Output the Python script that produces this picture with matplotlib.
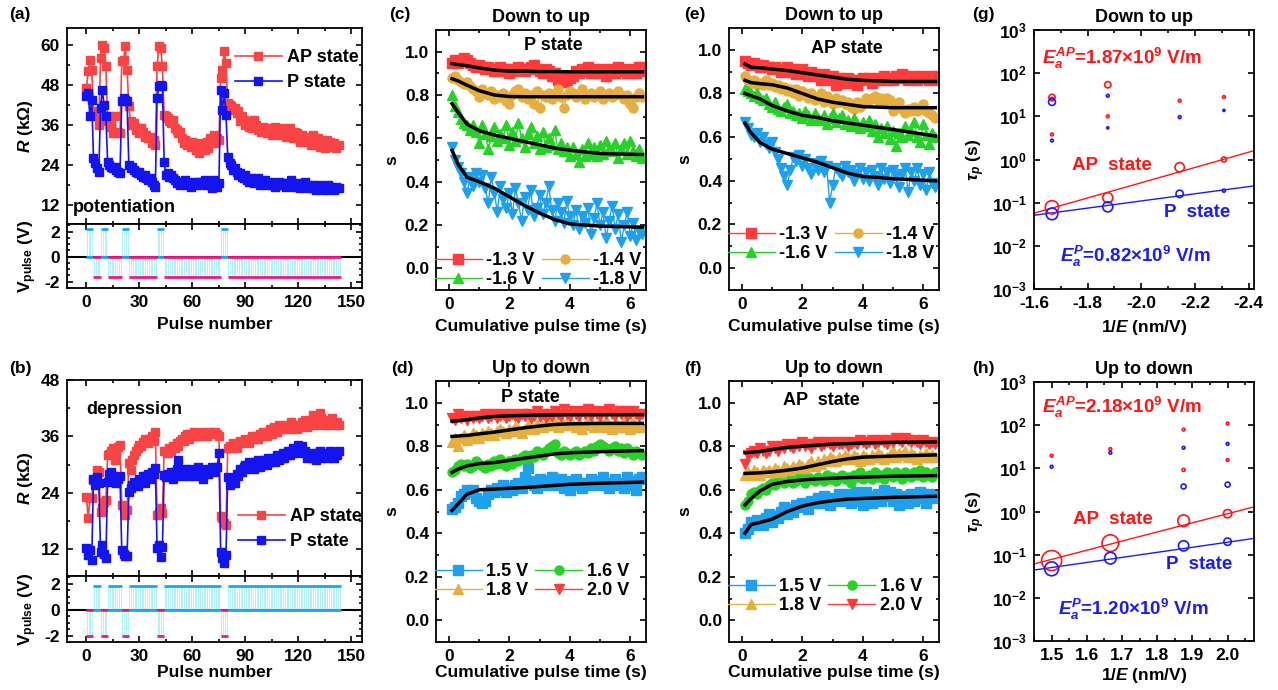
import numpy as np
import matplotlib.pyplot as plt
from matplotlib.ticker import AutoMinorLocator, MultipleLocator

plt.rcParams['font.family'] = 'Liberation Sans'
plt.rcParams['font.weight'] = 'bold'
plt.rcParams['axes.labelweight'] = 'bold'
plt.rcParams['axes.titleweight'] = 'bold'
plt.rcParams['mathtext.fontset'] = 'custom'
plt.rcParams['mathtext.rm'] = 'Liberation Sans:bold'
plt.rcParams['mathtext.it'] = 'Liberation Sans:bold:italic'
plt.rcParams['mathtext.bf'] = 'Liberation Sans:bold'
plt.rcParams['axes.linewidth'] = 1.3
plt.rcParams['axes.unicode_minus'] = False

# ---------------- panel (a)/(b): resistance vs pulse number ----------------
pulse_num = np.arange(144)
reset_start = [0, 8, 20, 40, 76]
reset_end = [4, 12, 24, 44, 80]
train_start = [4, 12, 24, 44, 80]
train_end = [8, 20, 40, 76, 144]

R_ap_pot = [
    47, 52, 55.5, 52.5,
    40, 39, 38.5, 36,
    56, 60, 59, 53.5,
    37, 38.5, 35.5, 33.5, 38.5, 33.5, 34, 33.5,
    55, 55.5, 59.5, 52.5,
    41.5, 37, 36, 36.5, 34.5, 35, 33.5, 35, 34, 32.5, 33, 32, 32.5, 30.5, 31.5, 30,
    53.5, 59.5, 59, 53.5,
    39, 38.5, 38, 37, 36.5, 37.5, 35, 34.5, 33.5, 34, 32, 30.5, 31.5, 30, 31, 29.5,
    31, 30, 28.5, 30.5, 27.5, 29.5, 30, 28.5, 31, 29, 32, 31, 33, 30.5, 32, 31.5,
    50, 52.5, 58, 54.5,
    42.5, 42, 41.5, 40.5, 41, 39.5, 40, 37, 38.5, 37.5, 36, 37, 35.5, 36.5, 35, 37.5,
    36, 34.5, 35, 34, 35.5, 34.5, 33.5, 35, 34, 33, 34.5, 35.5, 33.5, 34, 33, 35,
    34, 32.5, 33.5, 35, 33, 32, 34, 33.5, 32, 31, 33, 32.5, 31, 32.5, 31.5, 30,
    33, 31.5, 30.5, 32, 29.5, 31, 30.5, 29, 31.5, 30, 31, 29.5, 30.5, 29, 30, 30,
]
R_p_pot = [
    44.5, 45.5, 38.5, 43.5,
    26, 24.5, 23, 22,
    41, 46.5, 42, 38.5,
    25, 24, 23.5, 23, 23.5, 22.5, 22, 21.5,
    43, 44, 43.5, 43,
    24, 23, 23.5, 22.5, 22, 21.5, 22, 21, 20.5, 21, 20, 19.5, 20, 19, 18, 17.5,
    44, 47.5, 48, 47.5,
    25, 21, 21.5, 20.5, 21, 20, 19.5, 18.5, 19, 18, 19, 18.5, 19.5, 18, 18.5, 17.5,
    19, 18.5, 18, 19, 18.5, 19, 18, 19.5, 18.5, 19, 18, 17, 19.5, 18.5, 17.5, 18.5,
    46.5, 40.5, 45.5, 39,
    26.5, 24.5, 24, 22.5, 23, 22, 21, 21.5, 20.5, 20, 21, 19.5, 19, 20, 19.5, 18.5,
    19, 20, 18, 19, 18.5, 19.5, 18, 18.5, 19, 18, 18.5, 17.5, 18.5, 19, 18, 18.5,
    18, 17.5, 18.5, 18, 19.5, 18, 17.5, 18, 18.5, 17, 18, 17.5, 19, 18, 17, 17.5,
    18, 17, 16.5, 17.5, 18, 17, 17.5, 16.5, 17, 18, 17.5, 17, 16.5, 17.5, 17, 17,
]
R_ap_dep = [
    23.2, 18.6, 22.8, 23,
    26.7, 26.5, 28.9, 28.5,
    20, 20.7, 22.1, 22.5,
    32, 32.3, 32.8, 33.5, 31, 32.5, 33.8, 34.2,
    21.4, 21, 19.3, 20.4,
    30.3, 28.9, 31, 32, 33, 33.5, 34.2, 34, 34.9, 35.5, 35, 34.5, 35.5, 36, 35, 37,
    19.3, 20, 20.7, 19.6,
    32.8, 33, 32.5, 33.5, 33, 34, 33.5, 34.5, 34, 35, 35.5, 35, 36, 36.5, 35.5, 36,
    36.5, 37, 36, 36.5, 36, 36.5, 37, 36.5, 36, 36.5, 37, 36.5, 36.5, 37, 36.5, 36,
    19, 18.6, 17.5, 17.2,
    33.5, 34, 33.5, 34.5, 34, 33.5, 34.5, 35, 34.5, 35, 35.5, 35, 34.5, 35.5, 36, 35.5,
    36, 35.5, 36.5, 36, 37, 36.5, 36, 37, 37.5, 36.5, 38, 37.5, 37, 38.5, 38, 37.5,
    38, 38.5, 37.5, 38, 39, 38.5, 38, 37.5, 38.5, 38, 39, 38.5, 39.5, 38, 38.5, 39,
    40.5, 39, 38.5, 39.5, 41, 40, 39, 38.5, 39.5, 38.5, 39, 40, 39, 38.5, 39, 38.5,
]
R_p_dep = [
    12.2, 10.8, 11.8, 9.7,
    27, 25.6, 27.4, 26,
    11.5, 12.9, 11, 10.1,
    26.4, 28.1, 28.5, 27.5, 26.4, 26, 27, 27.5,
    11.8, 11, 10.5, 10.6,
    24.2, 25, 25.6, 26.4, 26, 25.5, 27, 26.5, 27.5, 26, 27.5, 28, 27, 28.5, 28, 29.2,
    12.2, 12.9, 10.4, 12.5,
    27.8, 27.4, 28, 27.5, 28.5, 27, 28.5, 29, 31, 28, 27.5, 28.5, 29, 28, 27.5, 28.5,
    29, 27.5, 28, 29.5, 28.5, 28, 27, 28.5, 29, 28, 28.5, 29.5, 28.5, 29, 29.5, 32.4,
    11.5, 10.2, 9, 10.8,
    27.4, 25.7, 26.5, 27, 26, 28, 27.5, 29, 28.5, 29.5, 30, 29, 30.5, 29.5, 30, 29,
    30.5, 31, 29.5, 30.3, 30.5, 31, 30, 31.5, 30.5, 31, 31.3, 30.5, 32, 31, 31.5, 32.5,
    31.5, 32, 33, 32, 32.8, 33.5, 32.5, 33, 34.2, 33.5, 34, 32.5, 33, 31.5, 32, 32.5,
    31.5, 32, 31, 32.5, 33, 31.5, 32, 32.5, 31.5, 32, 33, 32.5, 31.5, 32.5, 32, 32.8,
]
V_reset_pot, V_train_pot = 2.2, -1.6
V_reset_dep, V_train_dep = -2.0, 1.8

# ---------------- panels (c)-(f): s vs cumulative pulse time ----------------
pulse_time = np.arange(1, 65) / 10
fit_t = [0.1, 0.3, 0.6, 1.0, 1.5, 2.0, 2.5, 3.0, 3.5, 4.0, 5.0, 6.4]

c_m13 = [0.95, 0.96, 0.95, 0.96, 0.97, 0.96, 0.95, 0.94, 0.93, 0.94, 0.93, 0.92, 0.93, 0.92, 0.91, 0.92,
         0.93, 0.91, 0.92, 0.90, 0.92, 0.91, 0.93, 0.92, 0.91, 0.92, 0.93, 0.94, 0.92, 0.91, 0.90, 0.92,
         0.91, 0.89, 0.90, 0.87, 0.88, 0.86, 0.87, 0.88, 0.89, 0.91, 0.90, 0.92, 0.91, 0.93, 0.90, 0.92,
         0.91, 0.90, 0.92, 0.89, 0.91, 0.92, 0.90, 0.93, 0.91, 0.92, 0.90, 0.91, 0.92, 0.90, 0.93, 0.91]
c_m14 = [0.88, 0.89, 0.87, 0.86, 0.85, 0.86, 0.84, 0.83, 0.82, 0.79, 0.83, 0.81, 0.80, 0.82, 0.78, 0.80,
         0.79, 0.81, 0.77, 0.76, 0.80, 0.82, 0.83, 0.79, 0.81, 0.78, 0.80, 0.76, 0.82, 0.74, 0.80, 0.79,
         0.81, 0.78, 0.80, 0.83, 0.79, 0.74, 0.80, 0.82, 0.81, 0.79, 0.80, 0.83, 0.78, 0.80, 0.81, 0.79,
         0.80, 0.82, 0.78, 0.80, 0.81, 0.79, 0.80, 0.82, 0.80, 0.78, 0.80, 0.76, 0.74, 0.79, 0.81, 0.79]
c_m16 = [0.80, 0.75, 0.72, 0.69, 0.67, 0.66, 0.64, 0.66, 0.63, 0.58, 0.66, 0.62, 0.55, 0.61, 0.65, 0.59,
         0.62, 0.60, 0.66, 0.57, 0.63, 0.59, 0.67, 0.60, 0.56, 0.62, 0.65, 0.58, 0.61, 0.55, 0.63, 0.56,
         0.60, 0.57, 0.64, 0.55, 0.58, 0.54, 0.56, 0.52, 0.56, 0.53, 0.49, 0.55, 0.52, 0.58, 0.53, 0.56,
         0.52, 0.57, 0.53, 0.59, 0.55, 0.54, 0.58, 0.51, 0.55, 0.58, 0.53, 0.59, 0.54, 0.52, 0.55, 0.51]
c_m18 = [0.56, 0.50, 0.47, 0.44, 0.40, 0.35, 0.42, 0.38, 0.44, 0.40, 0.43, 0.37, 0.30, 0.42, 0.35, 0.26,
         0.38, 0.32, 0.28, 0.35, 0.25, 0.37, 0.30, 0.22, 0.33, 0.27, 0.36, 0.24, 0.28, 0.34, 0.25, 0.30,
         0.38, 0.27, 0.22, 0.30, 0.26, 0.21, 0.31, 0.24, 0.20, 0.27, 0.18, 0.24, 0.21, 0.28, 0.16, 0.23,
         0.30, 0.20, 0.26, 0.14, 0.22, 0.29, 0.18, 0.25, 0.12, 0.20, 0.26, 0.15, 0.21, 0.13, 0.17, 0.16]
c_fit = [
    [0.945, 0.94, 0.935, 0.925, 0.915, 0.91, 0.91, 0.908, 0.908, 0.907, 0.907, 0.907],
    [0.875, 0.865, 0.845, 0.82, 0.80, 0.793, 0.792, 0.792, 0.792, 0.792, 0.792, 0.792],
    [0.76, 0.72, 0.665, 0.635, 0.615, 0.60, 0.585, 0.57, 0.555, 0.545, 0.53, 0.525],
    [0.545, 0.48, 0.42, 0.40, 0.37, 0.33, 0.29, 0.255, 0.225, 0.205, 0.195, 0.19],
]

e_m13 = [0.95, 0.94, 0.93, 0.94, 0.93, 0.92, 0.93, 0.92, 0.92, 0.91, 0.92, 0.91, 0.90, 0.91, 0.92, 0.90,
         0.91, 0.89, 0.90, 0.91, 0.89, 0.88, 0.90, 0.89, 0.88, 0.86, 0.89, 0.87, 0.86, 0.88, 0.84, 0.87,
         0.86, 0.85, 0.87, 0.86, 0.85, 0.84, 0.86, 0.87, 0.86, 0.87, 0.85, 0.86, 0.87, 0.86, 0.88, 0.86,
         0.87, 0.86, 0.88, 0.87, 0.89, 0.88, 0.86, 0.87, 0.88, 0.86, 0.87, 0.88, 0.87, 0.86, 0.88, 0.86]
e_m14 = [0.88, 0.86, 0.85, 0.86, 0.84, 0.85, 0.84, 0.86, 0.84, 0.85, 0.83, 0.84, 0.82, 0.83, 0.81, 0.82,
         0.80, 0.82, 0.79, 0.81, 0.80, 0.78, 0.80, 0.77, 0.78, 0.80, 0.76, 0.79, 0.77, 0.75, 0.78, 0.76,
         0.77, 0.75, 0.76, 0.74, 0.73, 0.76, 0.74, 0.75, 0.78, 0.77, 0.78, 0.79, 0.77, 0.78, 0.76, 0.78,
         0.77, 0.72, 0.74, 0.76, 0.73, 0.71, 0.73, 0.72, 0.74, 0.72, 0.73, 0.75, 0.72, 0.71, 0.70, 0.69]
e_m16 = [0.82, 0.81, 0.80, 0.79, 0.80, 0.78, 0.77, 0.78, 0.75, 0.74, 0.76, 0.73, 0.72, 0.74, 0.75, 0.71,
         0.72, 0.70, 0.71, 0.69, 0.72, 0.70, 0.68, 0.71, 0.69, 0.68, 0.70, 0.66, 0.69, 0.71, 0.67, 0.69,
         0.70, 0.66, 0.68, 0.65, 0.69, 0.66, 0.64, 0.67, 0.65, 0.68, 0.63, 0.66, 0.60, 0.64, 0.62, 0.65,
         0.59, 0.63, 0.56, 0.62, 0.60, 0.65, 0.61, 0.63, 0.67, 0.60, 0.58, 0.66, 0.61, 0.57, 0.62, 0.60]
e_m18 = [0.67, 0.64, 0.61, 0.60, 0.62, 0.58, 0.60, 0.57, 0.55, 0.58, 0.53, 0.50, 0.46, 0.42, 0.38, 0.45,
         0.51, 0.49, 0.52, 0.47, 0.50, 0.46, 0.43, 0.48, 0.45, 0.49, 0.44, 0.47, 0.30, 0.38, 0.46, 0.44,
         0.42, 0.47, 0.44, 0.45, 0.40, 0.43, 0.46, 0.41, 0.44, 0.40, 0.45, 0.42, 0.38, 0.46, 0.41, 0.44,
         0.39, 0.45, 0.42, 0.37, 0.43, 0.46, 0.35, 0.44, 0.40, 0.46, 0.38, 0.43, 0.36, 0.44, 0.39, 0.37]
e_fit = [
    [0.935, 0.92, 0.918, 0.912, 0.905, 0.895, 0.885, 0.875, 0.865, 0.86, 0.855, 0.855],
    [0.86, 0.85, 0.845, 0.84, 0.825, 0.80, 0.775, 0.76, 0.75, 0.74, 0.735, 0.735],
    [0.80, 0.79, 0.775, 0.745, 0.72, 0.70, 0.69, 0.675, 0.665, 0.655, 0.635, 0.605],
    [0.665, 0.62, 0.575, 0.545, 0.525, 0.505, 0.485, 0.46, 0.435, 0.42, 0.41, 0.40],
]

d_15 = [0.51, 0.52, 0.54, 0.57, 0.58, 0.60, 0.59, 0.60, 0.56, 0.55, 0.54, 0.55, 0.58, 0.60, 0.59, 0.61,
        0.60, 0.62, 0.59, 0.61, 0.60, 0.62, 0.63, 0.61, 0.66, 0.70, 0.64, 0.62, 0.61, 0.65, 0.63, 0.62,
        0.64, 0.66, 0.62, 0.63, 0.65, 0.61, 0.64, 0.60, 0.62, 0.65, 0.63, 0.61, 0.63, 0.62, 0.65, 0.63,
        0.62, 0.64, 0.66, 0.62, 0.61, 0.63, 0.65, 0.62, 0.63, 0.61, 0.66, 0.62, 0.64, 0.60, 0.65, 0.66]
d_16 = [0.68, 0.69, 0.71, 0.72, 0.71, 0.72, 0.70, 0.71, 0.73, 0.72, 0.71, 0.70, 0.72, 0.71, 0.73, 0.72,
        0.74, 0.72, 0.71, 0.73, 0.72, 0.74, 0.73, 0.75, 0.76, 0.74, 0.76, 0.75, 0.78, 0.77, 0.76, 0.78,
        0.79, 0.80, 0.81, 0.77, 0.76, 0.78, 0.77, 0.76, 0.77, 0.78, 0.76, 0.77, 0.78, 0.77, 0.79, 0.78,
        0.80, 0.81, 0.80, 0.79, 0.78, 0.79, 0.80, 0.78, 0.79, 0.77, 0.79, 0.78, 0.76, 0.78, 0.77, 0.76]
d_18 = [0.82, 0.84, 0.80, 0.84, 0.85, 0.83, 0.84, 0.86, 0.85, 0.84, 0.86, 0.85, 0.87, 0.86, 0.85, 0.87,
        0.88, 0.87, 0.86, 0.88, 0.87, 0.89, 0.88, 0.86, 0.88, 0.90, 0.89, 0.88, 0.90, 0.91, 0.89, 0.90,
        0.92, 0.90, 0.91, 0.89, 0.92, 0.90, 0.91, 0.92, 0.90, 0.89, 0.91, 0.88, 0.90, 0.92, 0.91, 0.89,
        0.90, 0.91, 0.89, 0.92, 0.90, 0.88, 0.91, 0.90, 0.89, 0.92, 0.90, 0.88, 0.91, 0.89, 0.90, 0.89]
d_20 = [0.93, 0.92, 0.95, 0.93, 0.94, 0.92, 0.94, 0.93, 0.94, 0.93, 0.94, 0.95, 0.93, 0.94, 0.95, 0.93,
        0.94, 0.95, 0.93, 0.94, 0.95, 0.94, 0.93, 0.95, 0.94, 0.95, 0.93, 0.94, 0.96, 0.94, 0.95, 0.93,
        0.95, 0.94, 0.96, 0.95, 0.94, 0.97, 0.95, 0.94, 0.96, 0.95, 0.94, 0.96, 0.95, 0.97, 0.94, 0.96,
        0.95, 0.94, 0.96, 0.95, 0.97, 0.95, 0.94, 0.96, 0.95, 0.96, 0.94, 0.95, 0.96, 0.95, 0.94, 0.95]
d_fit = [
    [0.505, 0.535, 0.58, 0.60, 0.603, 0.607, 0.61, 0.615, 0.62, 0.625, 0.63, 0.635],
    [0.68, 0.695, 0.71, 0.72, 0.725, 0.735, 0.745, 0.755, 0.765, 0.77, 0.775, 0.78],
    [0.845, 0.847, 0.85, 0.857, 0.865, 0.875, 0.885, 0.893, 0.90, 0.903, 0.905, 0.905],
    [0.915, 0.917, 0.922, 0.93, 0.937, 0.94, 0.942, 0.943, 0.944, 0.945, 0.945, 0.945],
]

f_15 = [0.40, 0.42, 0.45, 0.44, 0.46, 0.45, 0.44, 0.47, 0.49, 0.45, 0.48, 0.47, 0.50, 0.52, 0.49, 0.51,
        0.50, 0.53, 0.52, 0.54, 0.53, 0.51, 0.55, 0.54, 0.56, 0.54, 0.57, 0.55, 0.53, 0.56, 0.55, 0.58,
        0.57, 0.55, 0.58, 0.54, 0.56, 0.59, 0.55, 0.53, 0.59, 0.57, 0.54, 0.56, 0.58, 0.55, 0.60, 0.57,
        0.59, 0.55, 0.58, 0.53, 0.57, 0.56, 0.54, 0.58, 0.55, 0.57, 0.59, 0.56, 0.54, 0.58, 0.56, 0.57]
f_16 = [0.53, 0.55, 0.58, 0.59, 0.58, 0.60, 0.61, 0.60, 0.62, 0.63, 0.62, 0.64, 0.65, 0.63, 0.64, 0.65,
        0.63, 0.64, 0.66, 0.65, 0.63, 0.66, 0.65, 0.64, 0.66, 0.65, 0.64, 0.67, 0.65, 0.66, 0.64, 0.66,
        0.67, 0.65, 0.66, 0.63, 0.67, 0.66, 0.68, 0.65, 0.66, 0.67, 0.65, 0.68, 0.66, 0.67, 0.65, 0.68,
        0.67, 0.66, 0.68, 0.67, 0.65, 0.68, 0.67, 0.66, 0.68, 0.67, 0.69, 0.66, 0.68, 0.67, 0.66, 0.68]
f_18 = [0.67, 0.68, 0.67, 0.69, 0.68, 0.67, 0.69, 0.68, 0.69, 0.68, 0.70, 0.69, 0.68, 0.71, 0.70, 0.69,
        0.71, 0.70, 0.72, 0.71, 0.70, 0.72, 0.73, 0.71, 0.73, 0.72, 0.74, 0.73, 0.75, 0.74, 0.73, 0.75,
        0.74, 0.76, 0.75, 0.74, 0.76, 0.75, 0.73, 0.76, 0.75, 0.74, 0.76, 0.75, 0.77, 0.76, 0.74, 0.75,
        0.76, 0.78, 0.75, 0.77, 0.76, 0.78, 0.75, 0.77, 0.76, 0.74, 0.76, 0.75, 0.77, 0.75, 0.76, 0.75]
f_20 = [0.72, 0.76, 0.77, 0.78, 0.77, 0.79, 0.78, 0.77, 0.78, 0.80, 0.79, 0.78, 0.80, 0.79, 0.81, 0.80,
        0.79, 0.81, 0.80, 0.82, 0.80, 0.81, 0.79, 0.81, 0.82, 0.80, 0.81, 0.82, 0.81, 0.80, 0.82, 0.81,
        0.81, 0.82, 0.80, 0.81, 0.82, 0.81, 0.83, 0.82, 0.81, 0.82, 0.83, 0.81, 0.82, 0.83, 0.82, 0.81,
        0.83, 0.82, 0.84, 0.83, 0.82, 0.84, 0.83, 0.82, 0.83, 0.82, 0.81, 0.83, 0.82, 0.81, 0.82, 0.81]
f_fit = [
    [0.40, 0.44, 0.45, 0.465, 0.50, 0.525, 0.54, 0.55, 0.557, 0.56, 0.565, 0.57],
    [0.53, 0.56, 0.595, 0.625, 0.638, 0.645, 0.65, 0.653, 0.656, 0.658, 0.662, 0.665],
    [0.675, 0.676, 0.678, 0.682, 0.69, 0.70, 0.715, 0.73, 0.742, 0.75, 0.755, 0.76],
    [0.77, 0.772, 0.776, 0.785, 0.795, 0.80, 0.805, 0.81, 0.812, 0.815, 0.818, 0.82],
]

neg_labels = ['-1.3 V', '-1.4 V', '-1.6 V', '-1.8 V']
pos_labels = ['1.5 V', '1.6 V', '1.8 V', '2.0 V']

# ---------------- panels (g)/(h): tau_p vs 1/E ----------------
g_x = [-1.667, -1.875, -2.143, -2.308]
g_tau_ap = [0.078, 0.13, 0.66, 1.0]
g_tau_p = [0.055, 0.08, 0.16, 0.19]
g_w_ap = [9.6, 7.2, 6.7, 3.6]
g_w_p = [8.4, 7.2, 5.3, 2.2]
g_ex_ap_x = [-1.667, -1.667, -1.667, -1.875, -1.875, -2.143, -2.308]
g_ex_ap_tau = [27.5, 25, 3.8, 54, 10, 23, 28]
g_ex_ap_w = [4.5, 2.5, 2, 4.5, 2, 2, 2]
g_ex_p_x = [-1.667, -1.667, -1.875, -1.875, -2.143, -2.308]
g_ex_p_tau = [21.5, 2.75, 30, 5.4, 9.6, 13.7]
g_ex_p_w = [5, 2, 2, 1.5, 2, 1.5]
g_fit_x = [-1.6, -2.42]
g_fit_ap = [0.057, 1.6]
g_fit_p = [0.051, 0.245]

h_x = [1.5, 1.667, 1.875, 2.0]
h_tau_ap = [0.073, 0.185, 0.61, 0.89]
h_tau_p = [0.047, 0.083, 0.16, 0.2]
h_w_ap = [14.4, 12, 8.4, 6]
h_w_p = [10, 8.4, 7.4, 5.3]
h_ex_ap_x = [1.5, 1.667, 1.875, 1.875, 2.0, 2.0]
h_ex_ap_tau = [19.6, 28, 79, 9.2, 109, 15.6]
h_ex_ap_w = [2, 2, 2, 2.2, 2, 2]
h_ex_p_x = [1.5, 1.667, 1.875, 1.875, 2.0, 2.0]
h_ex_p_tau = [10.9, 23, 30, 3.8, 37, 4.2]
h_ex_p_w = [2, 2, 2, 3.6, 2, 3.6]
h_fit_x = [1.45, 2.075]
h_fit_ap = [0.061, 1.28]
h_fit_p = [0.044, 0.238]

# ---------------- styling ----------------
RED = '#ff3b3b'
ORANGE = '#e6ae3e'
GREEN = '#2ad02a'
BLUE = '#1fa0ee'
A_RED = '#f84444'
A_BLUE = '#1414f0'
T_RED = '#ff1515'
T_BLUE = '#1a1aff'
CYAN = '#1aa8ee'
PINK = '#f5167f'
PALE = '#a6eef9'

FS_TICK = 12.5
FS_LAB = 12.5
FS_TXT = 13

W, H = 1278, 690
fig = plt.figure(figsize=(W / 100, H / 100), dpi=100)


def add_ax(x0, y0, x1, y1):
    return fig.add_axes([x0 / W, 1 - y1 / H, (x1 - x0) / W, (y1 - y0) / H])


def style(ax, minor_x=True, minor_y=True):
    ax.tick_params(which='both', direction='in', top=True, right=True,
                   labelsize=FS_TICK, width=1.2, pad=5)
    ax.tick_params(which='major', length=4.5)
    ax.tick_params(which='minor', length=2.5)
    if minor_x:
        ax.xaxis.set_minor_locator(AutoMinorLocator(2))
    if minor_y:
        ax.yaxis.set_minor_locator(AutoMinorLocator(2))


def resistance_panel(box_r, box_v, R_ap, R_p, ylim, yticks, V_reset, V_train,
                     reset_on_top, text, text_pos, leg_loc, leg_anchor, xpad):
    ax = add_ax(*box_r)
    ax.plot(pulse_num, R_ap, '-s', color=A_RED, ms=5.5, lw=1.2, label='AP state')
    ax.plot(pulse_num, R_p, '-s', color=A_BLUE, ms=5.5, lw=1.2, label='P state')
    ax.set_xlim(-11, 156)
    ax.set_ylim(*ylim)
    ax.set_yticks(yticks)
    ax.xaxis.set_major_locator(MultipleLocator(30))
    style(ax)
    ax.tick_params(labelbottom=False)
    ax.set_ylabel(r'$R$ (k$\Omega$)', fontsize=FS_LAB)
    ax.legend(loc=leg_loc, bbox_to_anchor=leg_anchor, frameon=False,
              fontsize=FS_TXT, handlelength=2.6, handletextpad=0.3,
              labelspacing=0.45, borderaxespad=0)
    ax.text(text_pos[0], text_pos[1], text, transform=ax.transAxes,
            fontsize=FS_TXT, va='center', ha='left')

    av = add_ax(*box_v)
    av.axhline(0, color='black', lw=1.5, zorder=1)
    if reset_on_top:
        c_reset, c_train = CYAN, PINK
    else:
        c_reset, c_train = PINK, CYAN
    for s, e in zip(reset_start, reset_end):
        av.vlines(np.arange(s, e) + 0.3, 0, V_reset, color=PALE, lw=0.6, zorder=2)
        av.hlines([V_reset, 0], s, e, color=c_reset, lw=2.0, zorder=3)
    for s, e in zip(train_start, train_end):
        av.vlines(np.arange(s, e) + 0.3, 0, V_train, color=PALE, lw=0.6, zorder=2)
        av.hlines([V_train, 0], s, e, color=c_train, lw=2.0, zorder=3)
    av.set_xlim(-11, 156)
    av.set_ylim(-2.5, 2.6)
    av.set_yticks([-2, 0, 2])
    av.xaxis.set_major_locator(MultipleLocator(30))
    style(av)
    av.yaxis.set_minor_locator(MultipleLocator(0.5))
    av.set_xlabel('Pulse number', fontsize=FS_LAB, labelpad=xpad)
    av.set_ylabel(r'V$_{\mathrm{pulse}}$ (V)', fontsize=FS_LAB, labelpad=4)
    fig.align_ylabels([ax, av])
    return ax, av


resistance_panel((67, 28, 362, 224), (67, 224, 362, 288), R_ap_pot, R_p_pot,
                 (6.3, 65), [12, 24, 36, 48, 60], V_reset_pot, V_train_pot,
                 True, 'potentiation', (0.02, 0.085), 'upper left', (0.545, 0.93), 5)
resistance_panel((67, 380, 362, 576), (67, 576, 362, 642), R_ap_dep, R_p_dep,
                 (6.3, 48), [12, 24, 36, 48], V_reset_dep, V_train_dep,
                 False, 'depression', (0.065, 0.85), 'lower left', (0.555, 0.095), 1)


def s_panel(box, series, fits, colors, markers, labels, order, title, state,
            state_pos, leg_y, xpad):
    ax = add_ax(*box)
    handles = []
    for ys, c, m, lab in zip(series, colors, markers, labels):
        h, = ax.plot(pulse_time, ys, '-', marker=m, color=c, ms=6.5, lw=1.0,
                     label=lab)
        handles.append(h)
    for fy in fits:
        ax.plot(fit_t, fy, '-', color='black', lw=2.5, zorder=5)
    ax.set_xlim(-0.43, 6.52)
    ax.set_ylim(-0.1, 1.1)
    ax.set_xticks([0, 2, 4, 6])
    ax.set_yticks([0.0, 0.2, 0.4, 0.6, 0.8, 1.0])
    style(ax)
    ax.set_xlabel('Cumulative pulse time (s)', fontsize=FS_LAB, labelpad=xpad)
    ax.set_ylabel('s', fontsize=FS_LAB)
    ax.set_title(title, fontsize=FS_TXT, pad=6)
    ax.text(state_pos[0], state_pos[1], state, transform=ax.transAxes,
            fontsize=FS_TXT, ha='center', va='center')
    ax.legend([handles[i] for i in order], [labels[i] for i in order], ncol=2,
              loc='lower left', bbox_to_anchor=(-0.015, leg_y), frameon=False,
              fontsize=FS_TXT, handlelength=2.6, handletextpad=0.25,
              columnspacing=0.4, labelspacing=0.1, borderaxespad=0,
              borderpad=0.1)
    return ax


neg_colors = [RED, ORANGE, GREEN, BLUE]
neg_markers = ['s', 'o', '^', 'v']
pos_colors = [BLUE, GREEN, ORANGE, RED]
pos_markers = ['s', 'o', '^', 'v']

s_panel((436, 30, 646, 290), [c_m13, c_m14, c_m16, c_m18], c_fit, neg_colors,
        neg_markers, neg_labels, [0, 2, 1, 3], 'Down to up', 'P state',
        (0.557, 0.94), 0.0, 5)
s_panel((729, 28, 939, 290), [e_m13, e_m14, e_m16, e_m18], e_fit, neg_colors,
        neg_markers, neg_labels, [0, 2, 1, 3], 'Down to up', 'AP state',
        (0.56, 0.92), 0.1, 5)
s_panel((436, 381, 646, 642), [d_15, d_16, d_18, d_20], d_fit, pos_colors,
        pos_markers, pos_labels, [0, 2, 1, 3], 'Up to down', 'P state',
        (0.45, 0.935), 0.158, 1)
s_panel((729, 381, 939, 642), [f_15, f_16, f_18, f_20], f_fit, pos_colors,
        pos_markers, pos_labels, [0, 2, 1, 3], 'Up to down', 'AP  state',
        (0.44, 0.927), 0.1, 1)


def tau_panel(box, x, tau_ap, tau_p, w_ap, w_p, ex, fit_x, fit_ap, fit_p,
              xlim, xticks, title, ea_ap, ea_p, pos, xpad):
    ax = add_ax(*box)
    ax.set_yscale('log')
    ax.plot(fit_x, fit_ap, '-', color=T_RED, lw=1.0)
    ax.plot(fit_x, fit_p, '-', color=T_BLUE, lw=1.0)
    ax.scatter(x, tau_ap, s=np.array(w_ap) ** 2, facecolors='none',
               edgecolors=T_RED, linewidths=1.2, zorder=4)
    ax.scatter(x, tau_p, s=np.array(w_p) ** 2, facecolors='none',
               edgecolors=T_BLUE, linewidths=1.2, zorder=4)
    (ax_x, ax_t, ax_w), (px_x, px_t, px_w) = ex
    ax.scatter(ax_x, ax_t, s=np.array(ax_w) ** 2, facecolors='none',
               edgecolors=T_RED, linewidths=1.2, zorder=4)
    ax.scatter(px_x, px_t, s=np.array(px_w) ** 2, facecolors='none',
               edgecolors=T_BLUE, linewidths=1.2, zorder=4)
    ax.set_xlim(*xlim)
    ax.set_ylim(1e-3, 1e3)
    ax.set_xticks(xticks)
    style(ax, minor_y=False)
    ax.yaxis.set_minor_locator(plt.NullLocator())
    ax.set_xlabel(r'1/$E$ (nm/V)', fontsize=FS_LAB, labelpad=xpad)
    ax.set_ylabel(r'$\tau_p$ (s)', fontsize=FS_LAB)
    ax.set_title(title, fontsize=FS_TXT, pad=6)
    fs = 13.5
    ax.text(pos[0][0], pos[0][1], ea_ap, color=T_RED, transform=ax.transAxes,
            fontsize=fs, ha='center', va='center')
    ax.text(pos[1][0], pos[1][1], 'AP  state', color=T_RED,
            transform=ax.transAxes, fontsize=fs, ha='center', va='center')
    ax.text(pos[2][0], pos[2][1], 'P  state', color=T_BLUE,
            transform=ax.transAxes, fontsize=fs, ha='center', va='center')
    ax.text(pos[3][0], pos[3][1], ea_p, color=T_BLUE, transform=ax.transAxes,
            fontsize=fs, ha='center', va='center')
    return ax


tau_panel((1034, 30, 1254, 289), g_x, g_tau_ap, g_tau_p, g_w_ap, g_w_p,
          ((g_ex_ap_x, g_ex_ap_tau, g_ex_ap_w), (g_ex_p_x, g_ex_p_tau, g_ex_p_w)),
          g_fit_x, g_fit_ap, g_fit_p, (-1.6, -2.42), [-1.6, -1.8, -2.0, -2.2, -2.4],
          'Down to up', r'$E_a^{AP}$=1.87×10$^{9}$ V/m', r'$E_a^{P}$=0.82×10$^{9}$ V/m',
          [(0.40, 0.89), (0.355, 0.475), (0.74, 0.295), (0.46, 0.124)], 5)
tau_panel((1034, 382, 1254, 641), h_x, h_tau_ap, h_tau_p, h_w_ap, h_w_p,
          ((h_ex_ap_x, h_ex_ap_tau, h_ex_ap_w), (h_ex_p_x, h_ex_p_tau, h_ex_p_w)),
          h_fit_x, h_fit_ap, h_fit_p, (1.45, 2.075), [1.5, 1.6, 1.7, 1.8, 1.9, 2.0],
          'Up to down', r'$E_a^{AP}$=2.18×10$^{9}$ V/m', r'$E_a^{P}$=1.20×10$^{9}$ V/m',
          [(0.40, 0.90), (0.36, 0.47), (0.75, 0.295), (0.45, 0.12)], 2.5)

# panel letters
for lab, (px, py) in zip('abcdefgh', [(20, 14), (20, 368), (400, 14), (402, 369),
                                      (695, 14), (693, 368), (983, 14), (983, 368)]):
    fig.text(px / W, 1 - py / H, f'({lab})', fontsize=12.5, ha='center', va='center')

fig.savefig('out.png', dpi=100)
